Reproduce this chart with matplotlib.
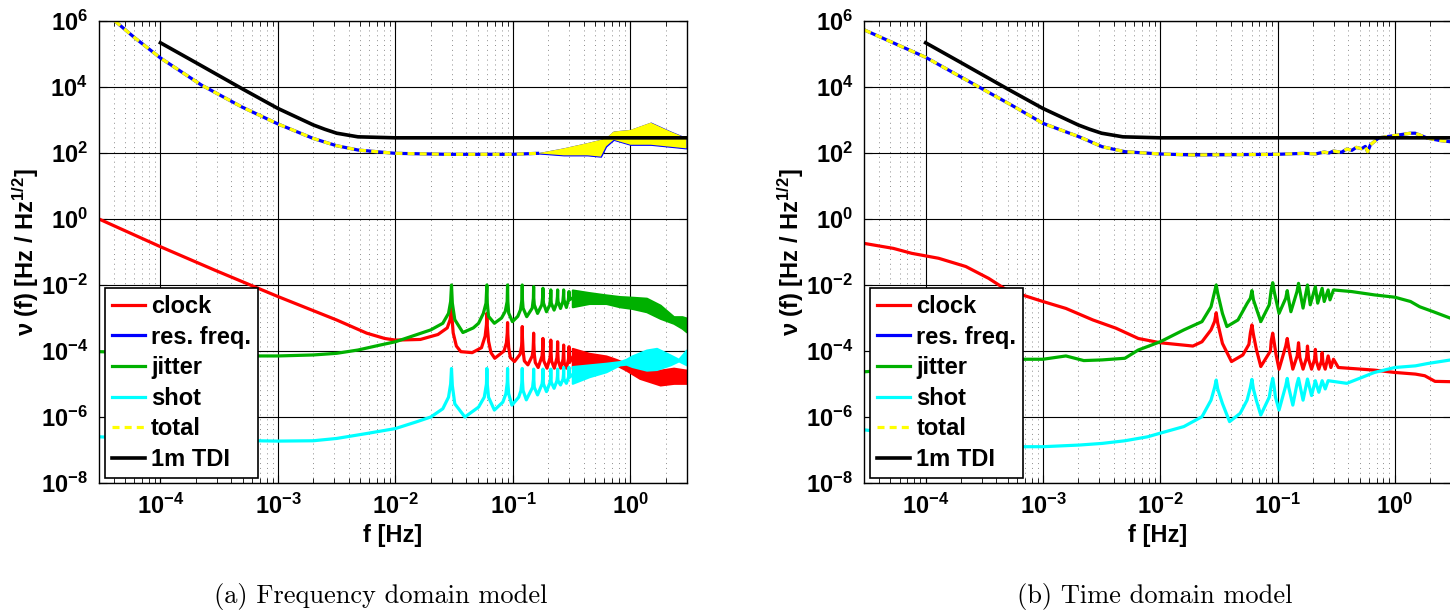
import numpy as np
import matplotlib
matplotlib.use('Agg')
import matplotlib.pyplot as plt
from matplotlib.ticker import FixedLocator, NullLocator, LogLocator

plt.rcParams['font.family'] = 'Liberation Sans'
plt.rcParams['font.weight'] = 'bold'
plt.rcParams['axes.labelweight'] = 'bold'
plt.rcParams['mathtext.fontset'] = 'custom'
plt.rcParams['mathtext.rm'] = 'Liberation Sans'
plt.rcParams['mathtext.bf'] = 'Liberation Sans:bold'
plt.rcParams['mathtext.default'] = 'bf'

# values are log10 of the amplitude spectral density

# ---- (a) frequency domain model ----
clock_a_f = [3e-5, 1e-4, 2.9e-4, 1e-3, 3.16e-3, 5.7e-3, 8.1e-3, 1e-2, 1.63e-2, 2.3e-2, 2.76e-2,
             0.0292, 0.0297, 0.030, 0.0303, 0.031, 0.033, 0.036, 0.045,
             0.054, 0.058, 0.0595, 0.060, 0.0605, 0.062, 0.065, 0.070,
             0.084, 0.088, 0.0895, 0.090, 0.0905, 0.092, 0.095, 0.103,
             0.115, 0.1185, 0.1195, 0.120, 0.1205, 0.122, 0.125, 0.134,
             0.146, 0.1485, 0.1495, 0.150, 0.1505, 0.152, 0.155, 0.164,
             0.177, 0.1795, 0.180, 0.1805, 0.183, 0.195,
             0.207, 0.2095, 0.210, 0.2105, 0.213, 0.225,
             0.237, 0.2395, 0.240, 0.2405, 0.243, 0.255,
             0.267, 0.2695, 0.270, 0.2705, 0.273, 0.285,
             0.297, 0.2995, 0.300, 0.3005, 0.303, 0.32]
clock_a_e = [0.0, -0.84, -1.55, -2.35, -3.06, -3.46, -3.62, -3.67, -3.65, -3.5, -3.3,
             -3.05, -2.85, -2.70, -3.0, -3.45, -3.85, -4.02, -4.05,
             -3.9, -3.55, -3.2, -2.86, -3.25, -3.7, -4.05, -4.22,
             -4.0, -3.75, -3.45, -3.14, -3.5, -3.9, -4.2, -4.32,
             -4.1, -3.85, -3.55, -3.26, -3.6, -4.0, -4.3, -4.42,
             -4.15, -3.95, -3.7, -3.46, -3.75, -4.1, -4.35, -4.5,
             -4.15, -3.85, -3.62, -3.9, -4.3, -4.52,
             -4.2, -3.9, -3.67, -3.95, -4.3, -4.52,
             -4.2, -3.95, -3.72, -4.0, -4.3, -4.52,
             -4.25, -4.0, -3.82, -4.05, -4.35, -4.52,
             -4.25, -4.05, -3.87, -4.1, -4.35, -4.2]
clock_a_band_f = [0.32, 0.445, 0.62, 0.71, 0.92, 1.2, 1.79, 2.33, 3.0]
clock_a_band_hi = [-3.92, -4.07, -4.15, -4.22, -4.37, -4.52, -4.58, -4.52, -4.58]
clock_a_band_lo = [-4.53, -4.50, -4.42, -4.37, -4.58, -4.83, -5.03, -4.98, -4.98]

jitter_a_f = [3e-5, 1e-4, 3e-4, 6.4e-4, 1e-3, 2e-3, 3.16e-3, 4.8e-3, 7.4e-3, 1e-2, 1.5e-2, 2e-2, 2.53e-2, 2.83e-2,
              0.0295, 0.030, 0.0305, 0.032, 0.0375, 0.046, 0.051, 0.056,
              0.059, 0.060, 0.0605, 0.062, 0.0695, 0.080, 0.086,
              0.0893, 0.090, 0.0905, 0.092, 0.099, 0.110, 0.116,
              0.1193, 0.120, 0.1205, 0.122, 0.131, 0.146,
              0.1493, 0.150, 0.1505, 0.152, 0.162, 0.176,
              0.1793, 0.180, 0.1805, 0.182, 0.193, 0.206,
              0.2093, 0.210, 0.2105, 0.212, 0.224, 0.236,
              0.2393, 0.240, 0.2405, 0.242, 0.254, 0.266,
              0.2693, 0.270, 0.2705, 0.272, 0.285, 0.296,
              0.2993, 0.300, 0.3005, 0.302, 0.32]
jitter_a_e = [-4.02, -4.08, -4.13, -4.15, -4.15, -4.12, -4.07, -3.97, -3.82, -3.72, -3.51, -3.36, -3.16, -2.86,
              -2.5, -2.0, -2.55, -3.05, -3.44, -3.3, -3.16, -2.86,
              -2.55, -2.0, -2.55, -2.95, -3.16, -3.0, -2.8,
              -2.5, -2.0, -2.5, -2.85, -3.11, -2.95, -2.75,
              -2.45, -2.0, -2.45, -2.7, -2.96, -2.7,
              -2.4, -2.05, -2.4, -2.6, -2.86, -2.6,
              -2.35, -2.1, -2.35, -2.55, -2.81, -2.6,
              -2.35, -2.15, -2.35, -2.55, -2.76, -2.55,
              -2.35, -2.15, -2.35, -2.5, -2.71, -2.5,
              -2.3, -2.15, -2.3, -2.45, -2.68, -2.45,
              -2.3, -2.2, -2.3, -2.45, -2.4]
jitter_a_band_f = [0.32, 0.445, 0.62, 0.81, 1.03, 1.37, 1.79, 2.33, 2.75, 3.0]
jitter_a_band_hi = [-2.15, -2.23, -2.30, -2.35, -2.37, -2.40, -2.61, -2.96, -2.96, -3.0]
jitter_a_band_lo = [-2.66, -2.56, -2.56, -2.66, -2.71, -2.81, -3.01, -3.16, -3.31, -3.42]

shot_a_f = [3e-5, 1e-4, 3e-4, 6.4e-4, 1e-3, 2e-3, 3.16e-3, 5.7e-3, 1e-2, 1.5e-2, 2e-2, 2.53e-2, 2.83e-2,
            0.0295, 0.030, 0.0305, 0.032, 0.039, 0.051, 0.057,
            0.0595, 0.060, 0.0605, 0.062, 0.0695, 0.082, 0.087,
            0.0895, 0.090, 0.0905, 0.092, 0.098, 0.112, 0.117,
            0.1195, 0.120, 0.1205, 0.122, 0.130, 0.147,
            0.1495, 0.150, 0.1505, 0.152, 0.162, 0.177,
            0.1795, 0.180, 0.1805, 0.182, 0.193, 0.207,
            0.2095, 0.210, 0.2105, 0.212, 0.224, 0.237,
            0.2395, 0.240, 0.2405, 0.242, 0.254, 0.267,
            0.2695, 0.270, 0.2705, 0.272, 0.285, 0.297,
            0.2995, 0.300, 0.3005, 0.302, 0.32]
shot_a_e = [-6.6, -6.68, -6.71, -6.72, -6.73, -6.72, -6.65, -6.5, -6.35, -6.15, -6.0, -5.75, -5.4,
            -5.0, -4.53, -5.05, -5.6, -6.0, -5.7, -5.4,
            -5.0, -4.53, -5.0, -5.4, -5.79, -5.55, -5.3,
            -4.95, -4.53, -4.95, -5.3, -5.64, -5.4, -5.2,
            -4.9, -4.53, -4.9, -5.2, -5.48, -5.1,
            -4.85, -4.55, -4.85, -5.1, -5.33, -5.0,
            -4.8, -4.55, -4.8, -5.0, -5.23, -4.95,
            -4.8, -4.55, -4.8, -4.95, -5.13, -4.9,
            -4.75, -4.55, -4.75, -4.9, -5.03, -4.85,
            -4.7, -4.5, -4.7, -4.85, -4.98, -4.8,
            -4.7, -4.5, -4.7, -4.8, -4.72]
shot_a_band_f = [0.32, 0.445, 0.62, 0.81, 0.92, 1.03, 1.37, 1.67, 2.18, 2.57, 3.0]
shot_a_band_hi = [-4.47, -4.42, -4.37, -4.32, -4.25, -4.15, -3.97, -3.92, -4.12, -4.25, -3.97]
shot_a_band_lo = [-4.98, -4.78, -4.63, -4.42, -4.40, -4.47, -4.58, -4.56, -4.42, -4.30, -4.42]

total_a_f = [4.1e-5, 6.0e-5, 1e-4, 2.23e-4, 4.9e-4, 1e-3, 2e-3, 3.16e-3, 4.8e-3, 1e-2, 2.76e-2, 0.1, 0.162]
total_a_e = [6.0, 5.5, 4.88, 4.06, 3.40, 2.88, 2.44, 2.22, 2.09, 1.99, 1.96, 1.96, 1.99]
total_a_band_f = [0.162, 0.27, 0.43, 0.56, 0.62, 0.72, 1.0, 1.49, 2.19, 3.0]
total_a_band_hi = [1.99, 2.14, 2.30, 2.40, 2.45, 2.65, 2.70, 2.92, 2.65, 2.45]
total_a_band_lo = [1.99, 1.93, 1.93, 1.89, 2.20, 2.40, 2.25, 2.25, 2.19, 2.14]

# ---- (b) time domain model ----
clock_b_f = [3e-5, 5.3e-5, 7.6e-5, 1.29e-4, 2.2e-4, 3.45e-4, 4.9e-4, 1e-3, 1.57e-3, 2.67e-3, 4.2e-3, 6.5e-3, 1e-2, 1.9e-2, 2.27e-2, 2.71e-2,
             0.0291, 0.030, 0.0309, 0.0339, 0.0405, 0.0506, 0.057, 0.0587, 0.0605, 0.0623, 0.066, 0.072,
             0.087, 0.0883, 0.091, 0.0937, 0.097, 0.103,
             0.1175, 0.121, 0.1245, 0.135, 0.147, 0.151, 0.155, 0.165, 0.177, 0.180, 0.184, 0.195,
             0.207, 0.210, 0.214, 0.225, 0.237, 0.240, 0.244, 0.255, 0.270, 0.285, 0.30, 0.33, 0.43, 0.67, 1.0, 1.5, 1.8, 2.2, 3.0]
clock_b_e = [-0.74, -0.89, -1.04, -1.19, -1.44, -1.80, -2.15, -2.50, -2.71, -3.06, -3.31, -3.62, -3.75, -3.85, -3.72, -3.36,
             -3.1, -2.84, -3.15, -3.77, -4.32, -4.12, -3.8, -3.45, -3.21, -3.5, -3.95, -4.47,
             -4.0, -3.7, -3.46, -3.75, -4.1, -4.55,
             -3.85, -3.62, -3.9, -4.55, -4.15, -3.75, -4.2, -4.55, -4.2, -3.85, -4.25, -4.55,
             -4.25, -3.95, -4.3, -4.55, -4.3, -4.05, -4.35, -4.55, -4.15, -4.5, -4.25, -4.5, -4.53, -4.58, -4.65, -4.70, -4.75, -4.92, -4.93]

jitter_b_f = [3e-5, 1e-4, 3e-4, 6.1e-4, 1e-3, 1.57e-3, 2.23e-3, 3.2e-3, 5.0e-3, 6.5e-3, 1e-2, 1.59e-2, 2.27e-2, 2.71e-2,
              0.0291, 0.030, 0.0309, 0.0339, 0.037, 0.046, 0.055, 0.0587, 0.0605, 0.0623, 0.072, 0.085,
              0.0883, 0.091, 0.0937, 0.103, 0.1175, 0.121, 0.1245, 0.13, 0.1465, 0.151, 0.1555, 0.165,
              0.18, 0.19, 0.21, 0.22, 0.24, 0.25, 0.27, 0.28, 0.30, 0.43, 0.67, 1.0, 1.36, 1.63, 2.13, 3.0]
jitter_b_e = [-4.63, -4.5, -4.35, -4.25, -4.25, -4.15, -4.29, -4.27, -4.22, -3.97, -3.72, -3.36, -3.11, -2.66,
              -2.2, -2.0, -2.25, -2.86, -3.26, -3.06, -2.56, -2.4, -2.17, -2.45, -3.11, -2.6,
              -2.15, -1.93, -2.2, -2.86, -2.4, -2.17, -2.45, -2.81, -2.2, -1.95, -2.2, -2.7,
              -2.0, -2.6, -2.05, -2.55, -2.1, -2.5, -2.15, -2.45, -2.15, -2.2, -2.30, -2.37, -2.5, -2.66, -2.81, -3.01]

shot_b_f = [3e-5, 1e-4, 3e-4, 6.1e-4, 1e-3, 2.04e-3, 3.2e-3, 5.0e-3, 7.8e-3, 1e-2, 1.59e-2, 2.27e-2, 2.71e-2,
            0.0291, 0.030, 0.0309, 0.0339, 0.039, 0.048, 0.055, 0.0587, 0.0605, 0.0623, 0.066, 0.072,
            0.085, 0.0883, 0.091, 0.0937, 0.096, 0.103, 0.1175, 0.121, 0.1245, 0.135, 0.1465, 0.151, 0.1555, 0.165,
            0.18, 0.195, 0.21, 0.225, 0.24, 0.255, 0.27, 0.39, 0.67, 1.0, 1.5, 1.9, 3.0]
shot_b_e = [-6.39, -6.6, -6.8, -6.90, -6.90, -6.85, -6.80, -6.72, -6.6, -6.49, -6.29, -5.99, -5.49,
            -5.1, -4.88, -5.15, -5.59, -6.14, -5.89, -5.49, -5.1, -4.86, -5.15, -5.5, -5.94,
            -5.4, -5.05, -4.83, -5.1, -5.4, -5.79, -5.05, -4.83, -5.1, -5.64, -5.0, -4.83, -5.05, -5.49,
            -4.85, -5.35, -4.9, -5.25, -4.9, -5.15, -4.9, -4.98, -4.65, -4.5, -4.45, -4.38, -4.27]

total_b_f = [3e-5, 1e-4, 2.88e-4, 5.4e-4, 1e-3, 2.04e-3, 3.2e-3, 5.0e-3, 1e-2, 1.9e-2, 0.1, 0.17, 0.21, 0.25, 0.275,
             0.30, 0.35, 0.39, 0.43, 0.47, 0.52, 0.56, 0.586, 0.62, 0.73, 1.0, 1.36, 1.49, 1.9, 2.4, 3.0]
total_b_e = [5.73, 4.90, 3.99, 3.45, 2.90, 2.49, 2.19, 2.04, 1.97, 1.94, 1.96, 1.99, 1.97, 2.03, 2.0,
             2.06, 2.02, 2.12, 2.08, 2.17, 2.13, 2.20, 2.04, 2.25, 2.46, 2.53, 2.60, 2.60, 2.45, 2.38, 2.34]

# 1 m TDI requirement, same in both panels
tdi_f = [1e-4, 2e-4, 5e-4, 1e-3, 2e-3, 2.5e-3, 3.16e-3, 4.8e-3, 1e-2, 3.0]
tdi_e = [5.34, 4.74, 3.94, 3.35, 2.85, 2.72, 2.60, 2.49, 2.46, 2.46]

RED = '#ff0000'
BLUE = '#0000ff'
GREEN = '#00b000'
CYAN = '#00ffff'
YELLOW = '#ffff00'
LW = 2.3


def p(e):
    return np.power(10.0, np.asarray(e))


def band(ax, f, hi, lo, color, edge=1.5):
    ax.fill_between(f, p(lo), p(hi), facecolor=color,
                    edgecolor=color if edge else 'none', lw=edge)


def setup(ax):
    ax.set_xscale('log')
    ax.set_yscale('log')
    ax.set_xlim(3e-5, 3)
    ax.set_ylim(1e-8, 1e6)
    ax.yaxis.set_major_locator(FixedLocator([1e-8, 1e-6, 1e-4, 1e-2, 1e0, 1e2, 1e4, 1e6]))
    ax.yaxis.set_minor_locator(NullLocator())
    ax.xaxis.set_major_locator(LogLocator(base=10, numticks=20))
    ax.xaxis.set_minor_locator(LogLocator(base=10, subs=np.arange(2, 10), numticks=20))
    ax.set_axisbelow(True)
    ax.grid(True, which='major', color='k', lw=0.8, ls='-')
    ax.grid(True, which='minor', axis='x', color='0.55', lw=0.7, ls=(0, (1, 4)))
    ax.tick_params(which='both', direction='in', top=True, right=True, labelsize=17)
    ax.tick_params(which='major', length=6, width=0.8)
    ax.tick_params(which='minor', length=3.5, width=0.6)
    ax.tick_params(axis='x', pad=8)
    ax.tick_params(axis='y', pad=8)
    for s in ax.spines.values():
        s.set_linewidth(1.0)
    ax.set_xlabel('f [Hz]', fontsize=17, fontweight='bold')
    ax.set_ylabel(r'$\mathrm{\nu}$ (f) [Hz / Hz$^{1/2}$]', fontsize=17, fontweight='bold')
    ax.xaxis.set_label_coords(0.5, -0.088)
    ax.yaxis.set_label_coords(-0.099, 0.5)


fig = plt.figure(figsize=(14.5, 6.13), dpi=100)
W, H = 1450.0, 613.0
ax1 = fig.add_axes([99 / W, (H - 483) / H, 587.5 / W, 462 / H])
ax2 = fig.add_axes([864.3 / W, (H - 483) / H, 586.5 / W, 462 / H])

# panel (a)
setup(ax1)
ax1.plot(clock_a_f, p(clock_a_e), color=RED, lw=LW, label='clock')
band(ax1, clock_a_band_f, clock_a_band_hi, clock_a_band_lo, RED)
ax1.plot(total_a_f, p(total_a_e), color=BLUE, lw=LW, label='res. freq.')
band(ax1, total_a_band_f, total_a_band_hi, total_a_band_lo, BLUE, edge=0.9)
ax1.plot(jitter_a_f, p(jitter_a_e), color=GREEN, lw=LW, label='jitter')
band(ax1, jitter_a_band_f, jitter_a_band_hi, jitter_a_band_lo, GREEN)
ax1.plot(shot_a_f, p(shot_a_e), color=CYAN, lw=LW, label='shot')
band(ax1, shot_a_band_f, shot_a_band_hi, shot_a_band_lo, CYAN)
ax1.plot(total_a_f, p(total_a_e), color=YELLOW, lw=LW, dashes=(2.2, 1.6), label='total')
band(ax1, total_a_band_f, total_a_band_hi, total_a_band_lo, YELLOW, edge=0)
ax1.plot(tdi_f, p(tdi_e), color='k', lw=2.6, label='1m TDI')

# panel (b)
setup(ax2)
ax2.plot(clock_b_f, p(clock_b_e), color=RED, lw=LW, label='clock')
ax2.plot(total_b_f, p(total_b_e), color=BLUE, lw=LW, label='res. freq.')
ax2.plot(jitter_b_f, p(jitter_b_e), color=GREEN, lw=LW, label='jitter')
ax2.plot(shot_b_f, p(shot_b_e), color=CYAN, lw=LW, label='shot')
ax2.plot(total_b_f, p(total_b_e), color=YELLOW, lw=LW, dashes=(2.2, 1.6), label='total')
ax2.plot(tdi_f, p(tdi_e), color='k', lw=2.6, label='1m TDI')

for ax in (ax1, ax2):
    leg = ax.legend(loc='lower left', bbox_to_anchor=(6 / 587.0, 5 / 462.0), borderaxespad=0,
                    fontsize=17, handlelength=1.4, handletextpad=0.25, labelspacing=0.32,
                    borderpad=0.3, fancybox=False, framealpha=1, edgecolor='k')
    leg.get_frame().set_linewidth(1.2)

fig.text(381 / W, 1 - 596 / H, '(a) Frequency domain model', family='cmr10',
         fontweight='normal', fontsize=19, ha='center', va='center')
fig.text(1155 / W, 1 - 596 / H, '(b) Time domain model', family='cmr10',
         fontweight='normal', fontsize=19, ha='center', va='center')

fig.savefig('out.png', dpi=100)
